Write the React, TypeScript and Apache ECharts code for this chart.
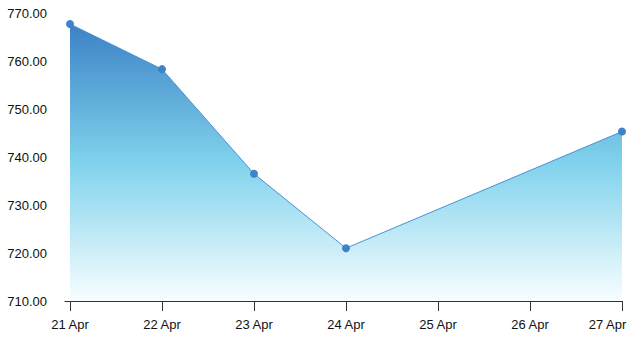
import React, { useEffect, useRef } from "react";
import * as echarts from "echarts";

const dayNumbers = [21, 22, 23, 24, 27];
const prices = [767.7, 758.3, 736.5, 721.0, 745.3];
const tickDays = [21, 22, 23, 24, 25, 26, 27];
const monthLabel = "Apr";
const yMin = 710;
const yMax = 770;
const yInterval = 10;

export default function App() {
  const ref = useRef<HTMLDivElement>(null);
  useEffect(() => {
    if (!ref.current) return;
    const chart = echarts.init(ref.current, null, { renderer: "svg" });
    const lastDay = tickDays[tickDays.length - 1];
    chart.setOption({
      animation: false,
      grid: { left: 65, right: 9, top: 13, bottom: 45, outerBoundsMode: "none", containLabel: false },
      xAxis: {
        type: "value",
        min: 21 - 5 / 92,
        max: 27,
        splitLine: { show: false },
        axisLine: { show: true, lineStyle: { color: "#333", width: 1 } },
        axisTick: { show: true, length: 10, lineStyle: { color: "#333" }, customValues: tickDays },
        axisLabel: {
          customValues: tickDays,
          formatter: (v: number) => {
            const d = Math.round(v);
            const t = `${d} ${monthLabel}`;
            return d === lastDay ? `{last|${t}}` : t;
          },
          rich: {
            last: {
              color: "#111",
              fontSize: 13,
              fontFamily: "Liberation Sans, Arial, sans-serif",
              padding: [0, 29, 0, 0],
            },
          },
          color: "#111",
          fontSize: 13,
          fontFamily: "Liberation Sans, Arial, sans-serif",
          margin: 17,
          hideOverlap: false,
        },
      },
      yAxis: {
        type: "value",
        min: yMin,
        max: yMax,
        interval: yInterval,
        splitLine: { show: false },
        axisLine: { show: false },
        axisTick: { show: false },
        axisLabel: {
          formatter: (v: number) => v.toFixed(2),
          color: "#111",
          fontSize: 13,
          fontFamily: "Liberation Sans, Arial, sans-serif",
          margin: 18,
        },
      },
      series: [
        {
          type: "line",
          data: dayNumbers.map((d, i) => [d, prices[i]]),
          symbol: "circle",
          symbolSize: 8,
          itemStyle: { color: "#3d83c9" },
          lineStyle: { color: "#4a90d2", width: 1 },
          areaStyle: {
            color: new echarts.graphic.LinearGradient(0, 0, 0, 1, [
              { offset: 0, color: "#3b82c7" },
              { offset: 0.5, color: "#80d2ec" },
              { offset: 1, color: "#f8feff" },
            ]),
            opacity: 1,
          },
        },
      ],
    });
    return () => chart.dispose();
  }, []);
  return <div ref={ref} style={{ width: 631, height: 346, position: "absolute", left: 0, top: 0 }} />;
}
